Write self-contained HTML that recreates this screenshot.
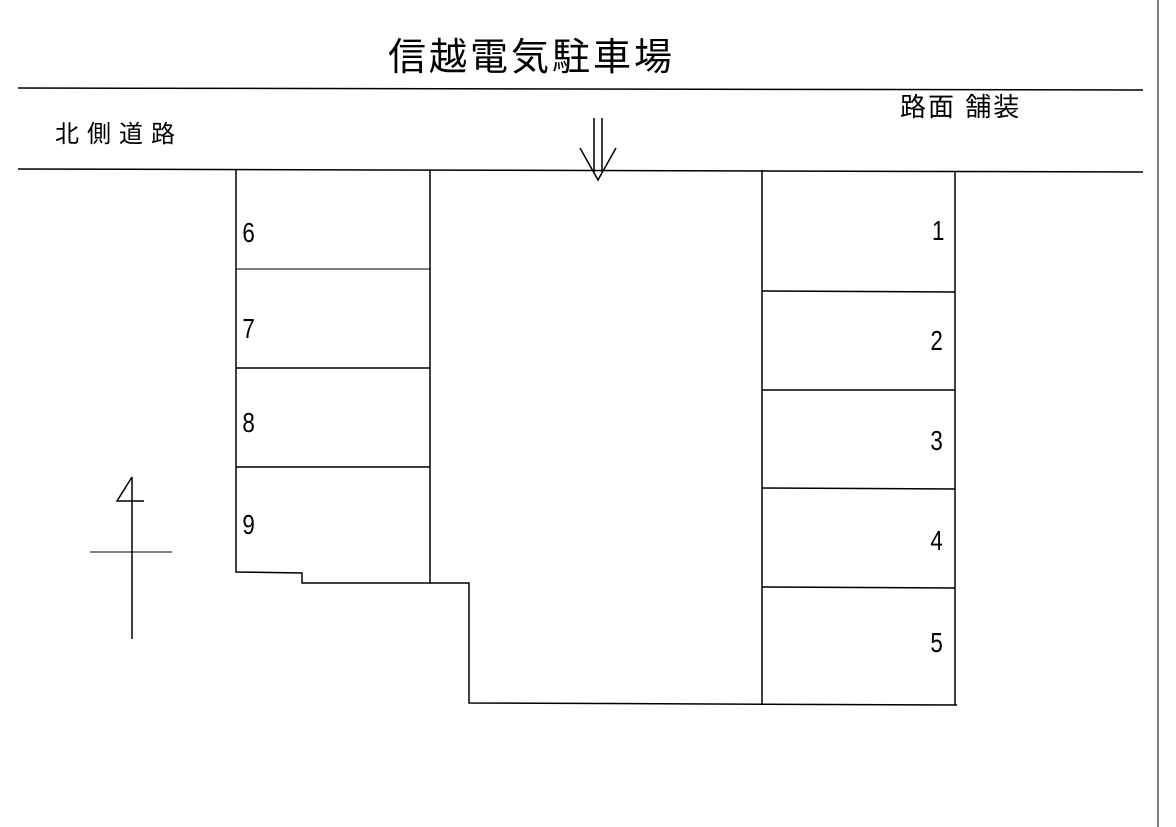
<!DOCTYPE html>
<html><head><meta charset="utf-8"><style>
html,body{margin:0;padding:0;background:#fff;}
svg{display:block}
text{font-family:"Liberation Sans","Noto Sans CJK JP",sans-serif;fill:#000}
.n{font-family:"Liberation Sans","DejaVu Sans",sans-serif;font-size:28px}
</style></head><body>
<svg width="1176" height="827" viewBox="0 0 1176 827" xmlns="http://www.w3.org/2000/svg">
<g stroke="#000" stroke-width="1.5" fill="none">
<line x1="18" y1="88" x2="1143" y2="90"/>
<line x1="18" y1="169" x2="1143" y2="172"/>
<line x1="594" y1="118" x2="594" y2="172"/>
<line x1="602" y1="118" x2="602" y2="172"/>
<polyline points="580,148 598,180 616,148"/>
<polyline points="236,170 236,572 302,573 302,583 430,583 430,170"/>
<line x1="236" y1="269" x2="430" y2="269" stroke-width="1"/>
<line x1="236" y1="368" x2="430" y2="368"/>
<line x1="236" y1="467" x2="430" y2="467"/>
<polyline points="430,583 469,583 469,703 957,705"/>
<line x1="762" y1="170" x2="762" y2="704"/>
<line x1="955" y1="172" x2="955" y2="705"/>
<line x1="762" y1="291" x2="955" y2="292"/>
<line x1="762" y1="390" x2="955" y2="390"/>
<line x1="762" y1="488" x2="955" y2="489"/>
<line x1="762" y1="587" x2="955" y2="588"/>
<line x1="132" y1="477" x2="132" y2="639"/>
<polyline points="132,477 117,501 144,501"/>
<line x1="90" y1="552" x2="172" y2="552" stroke-width="1"/>
<line x1="1158" y1="0" x2="1158" y2="827" stroke-width="1"/>
</g>
<text x="388" y="70" font-size="38" letter-spacing="3">信越電気駐車場</text>
<text x="55" y="142" font-size="24" letter-spacing="8">北側道路</text>
<text x="900" y="116" font-size="26" letter-spacing="2">路面  舗装</text>
<g transform="scale(0.8,1)">
<text class="n" x="303" y="242">6</text>
<text class="n" x="303" y="338">7</text>
<text class="n" x="303" y="432">8</text>
<text class="n" x="303" y="534">9</text>
<text class="n" x="1165" y="240">1</text>
<text class="n" x="1163" y="350">2</text>
<text class="n" x="1163" y="450">3</text>
<text class="n" x="1163" y="550">4</text>
<text class="n" x="1163" y="652">5</text>
</g>
</svg>
</body></html>
